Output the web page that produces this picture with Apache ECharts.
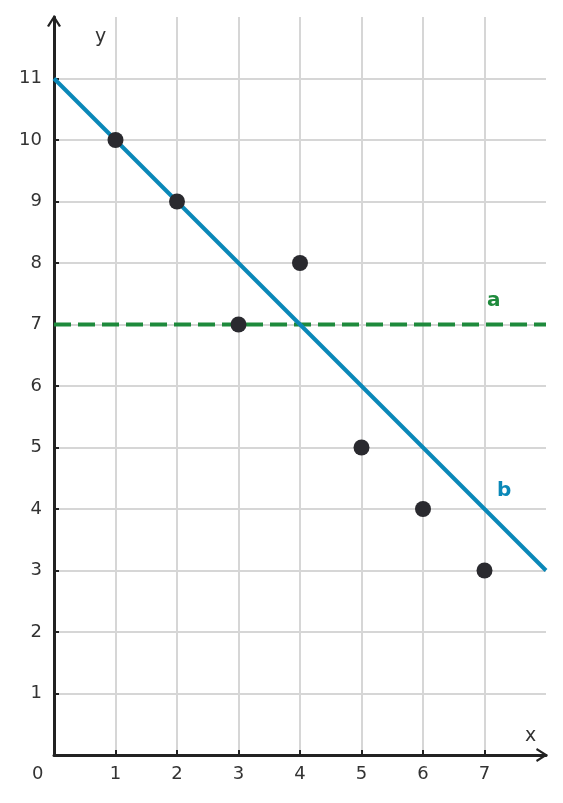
<!DOCTYPE html>
<html>
<head>
<meta charset="utf-8">
<script src="https://cdn.jsdelivr.net/npm/echarts@6/dist/echarts.min.js"></script>
<style>html,body{margin:0;padding:0;background:#fff}#c{width:563px;height:803px}</style>
</head>
<body>
<div id="c"></div>
<script>
var pointX = [1, 2, 3, 4, 5, 6, 7];
var pointY = [10, 9, 7, 8, 5, 4, 3];
var lineB = [[0, 11], [8, 3]];
var lineA = [[0, 7], [8, 7]];
var labelA = { name: 'a', pos: [7.15, 7.39] };
var labelB = { name: 'b', pos: [7.32, 4.29] };
var xRange = [0, 8];
var yRange = [0, 12];

var FONT = 'DejaVu Sans';
var chevron = 'path://M0,11 L7,0 L14,11 L12,12 L7,4 L2,12 Z';
var chart = echarts.init(document.getElementById('c'));
var pts = pointX.map(function (x, i) { return [x, pointY[i]]; });

function axisCommon() {
  return {
    type: 'value',
    interval: 1,
    axisLine: { show: true, onZero: false, lineStyle: { color: '#222', width: 3 },
      symbol: ['none', chevron], symbolSize: [14, 12], symbolOffset: [0, -4] },
    axisTick: { show: true, inside: true, length: 5, lineStyle: { color: '#222', width: 2 } },
    splitLine: { show: true, showMinLine: false, showMaxLine: false, lineStyle: { color: '#d6d6d6', width: 2 } },
    axisLabel: { showMinLabel: false, showMaxLabel: false, color: '#333', fontFamily: FONT, fontSize: 18 }
  };
}
var xa = axisCommon(); xa.min = xRange[0]; xa.max = xRange[1]; xa.axisLabel.margin = 10;
var ya = axisCommon(); ya.min = yRange[0]; ya.max = yRange[1]; ya.axisLabel.margin = 12;

chart.setOption({
  animation: false,
  grid: { left: 54, top: 17, right: 17, bottom: 48, containLabel: false },
  xAxis: xa,
  yAxis: ya,
  series: [
    { type: 'line', data: lineA, symbol: 'none', z: 3,
      lineStyle: { color: '#1e8a3c', width: 4, type: [17, 7] } },
    { type: 'line', data: lineB, symbol: 'none', z: 4,
      lineStyle: { color: '#0a88b8', width: 4 } },
    { type: 'scatter', data: pts, symbolSize: 16, z: 5,
      itemStyle: { color: '#2a2a2f', opacity: 1 } },
    { type: 'scatter', symbolSize: 0, z: 6, silent: true,
      itemStyle: { color: 'transparent', opacity: 1 },
      data: [
        { value: labelA.pos, label: { show: true, formatter: labelA.name, color: '#1e8a3c' } },
        { value: labelB.pos, label: { show: true, formatter: labelB.name, color: '#0a88b8' } }
      ],
      label: { position: 'inside', fontFamily: FONT, fontSize: 20, fontWeight: 'bold' } }
  ],
  graphic: [
    { type: 'text', left: 95, top: 28, style: { text: 'y', fontFamily: FONT, fontSize: 19, fill: '#333' } },
    { type: 'text', left: 525, top: 727, style: { text: 'x', fontFamily: FONT, fontSize: 19, fill: '#333' } },
    { type: 'text', left: 32, top: 765, style: { text: '0', fontFamily: FONT, fontSize: 18, fill: '#333' } }
  ]
});
</script>
</body>
</html>
